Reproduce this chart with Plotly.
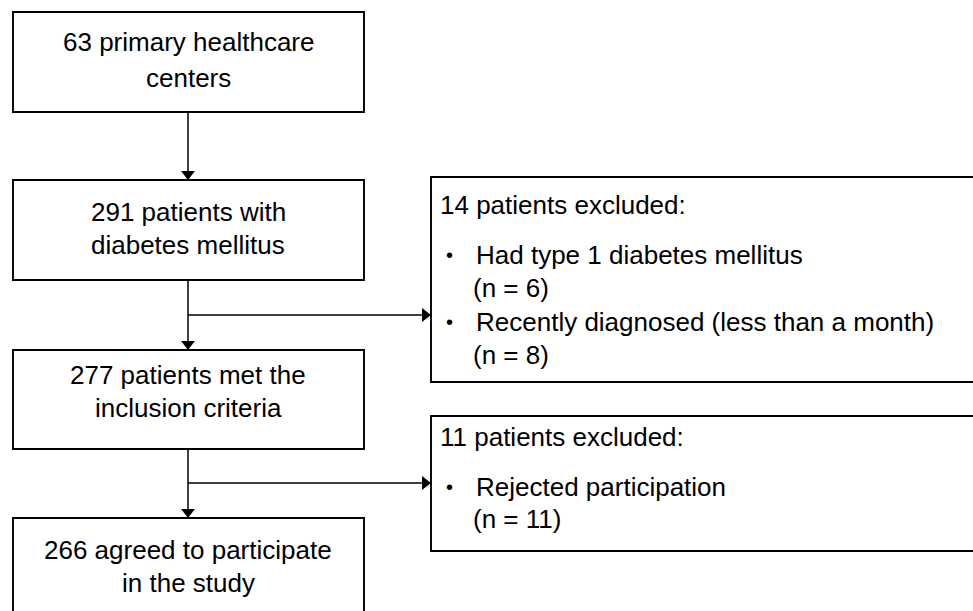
import plotly.graph_objects as go

# ---- content ----
main_steps = [
    ["63 primary healthcare", "centers"],
    ["291 patients with", "diabetes mellitus"],
    ["277 patients met the", "inclusion criteria"],
    ["266 agreed to participate", "in the study"],
]
excl_titles = ["14 patients excluded:", "11 patients excluded:"]
excl_items = [
    [["Had type 1 diabetes mellitus", "(n = 6)"],
     ["Recently diagnosed (less than a month)", "(n = 8)"]],
    [["Rejected participation", "(n = 11)"]],
]

# ---- layout (pixel coordinates) ----
W, H = 973, 611
main_boxes = [(12, 112), (180, 280), (350, 449), (518, 625)]
main_x0, main_x1, main_cx = 13, 364, 188
line_centers = [(42, 78), (212, 245), (375, 408), (550, 583)]
side_boxes = [(177, 382), (416, 551)]
side_x0, side_x1 = 431, 1100
branch_y = [315, 483]
side_title_y = [205, 437]
side_item_y = [[(255, 288), (322, 355)], [(487, 519)]]

FONT = "Liberation Sans, Arial, sans-serif"
FS = 26
BOX_LW = 1.9
ARROW_LW = 1.5

fig = go.Figure()
shapes = []
annotations = []

for (y0, y1), lines, ys in zip(main_boxes, main_steps, line_centers):
    shapes.append(dict(type="rect", x0=main_x0, x1=main_x1, y0=y0, y1=y1,
                       line=dict(color="black", width=BOX_LW), fillcolor="white", layer="below"))
    for t, yy in zip(lines, ys):
        annotations.append(dict(x=main_cx, y=yy, text=t, showarrow=False,
                                xanchor="center", yanchor="middle",
                                font=dict(size=FS, color="black", family=FONT)))

for (y0, y1), title, ty, items, iys in zip(side_boxes, excl_titles, side_title_y, excl_items, side_item_y):
    shapes.append(dict(type="rect", x0=side_x0, x1=side_x1, y0=y0, y1=y1,
                       line=dict(color="black", width=BOX_LW), fillcolor="white", layer="below"))
    annotations.append(dict(x=side_x0 + 7, y=ty, text=title, showarrow=False,
                            xanchor="left", yanchor="middle",
                            font=dict(size=FS, color="black", family=FONT)))
    for (l1, l2), (y1_, y2_) in zip(items, iys):
        annotations.append(dict(x=side_x0 + 13, y=y1_, text="•", showarrow=False,
                                xanchor="left", yanchor="middle",
                                font=dict(size=20, color="black", family=FONT)))
        annotations.append(dict(x=side_x0 + 43, y=y1_, text=l1, showarrow=False,
                                xanchor="left", yanchor="middle",
                                font=dict(size=FS, color="black", family=FONT)))
        annotations.append(dict(x=side_x0 + 40, y=y2_, text=l2, showarrow=False,
                                xanchor="left", yanchor="middle",
                                font=dict(size=FS, color="black", family=FONT)))

# connectors
tri_down_x, tri_down_y = [], []
for i in range(len(main_boxes) - 1):
    ya = main_boxes[i][1]
    yb = main_boxes[i + 1][0]
    shapes.append(dict(type="line", x0=main_cx, x1=main_cx, y0=ya, y1=yb - 8,
                       line=dict(color="black", width=ARROW_LW)))
    tri_down_x.append(main_cx)
    tri_down_y.append(yb - 6)

tri_right_x, tri_right_y = [], []
for by in branch_y:
    shapes.append(dict(type="line", x0=main_cx, x1=side_x0 - 8, y0=by, y1=by,
                       line=dict(color="black", width=ARROW_LW)))
    tri_right_x.append(side_x0 - 6)
    tri_right_y.append(by)

fig.add_trace(go.Scatter(x=tri_down_x, y=tri_down_y, mode="markers",
                         marker=dict(symbol="triangle-down", size=12, color="black"),
                         hoverinfo="skip", showlegend=False))
fig.add_trace(go.Scatter(x=tri_right_x, y=tri_right_y, mode="markers",
                         marker=dict(symbol="triangle-right", size=12, color="black"),
                         hoverinfo="skip", showlegend=False))

fig.update_layout(
    width=W, height=H,
    margin=dict(l=0, r=0, t=0, b=0),
    paper_bgcolor="white", plot_bgcolor="white",
    shapes=shapes, annotations=annotations,
    xaxis=dict(range=[0, W], visible=False, fixedrange=True),
    yaxis=dict(range=[H, 0], visible=False, fixedrange=True),
    showlegend=False,
)

fig.write_html("out.html", config={"displayModeBar": False},
               post_script="document.body.style.margin='0';document.body.style.overflow='hidden';")
